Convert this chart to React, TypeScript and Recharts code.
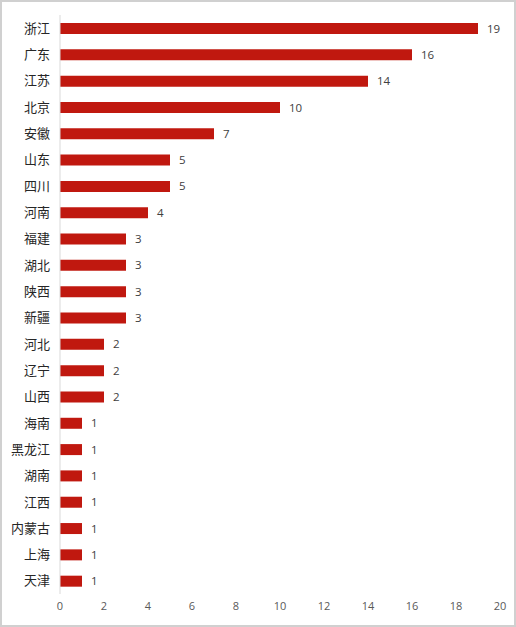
import { BarChart, Bar, XAxis, YAxis, LabelList } from 'recharts'

const provinces = [
  '浙江', '广东', '江苏', '北京', '安徽', '山东', '四川', '河南', '福建', '湖北', '陕西',
  '新疆', '河北', '辽宁', '山西', '海南', '黑龙江', '湖南', '江西', '内蒙古', '上海', '天津',
]
const counts = [19, 16, 14, 10, 7, 5, 5, 4, 3, 3, 3, 3, 2, 2, 2, 1, 1, 1, 1, 1, 1, 1]
const xTicks = [0, 2, 4, 6, 8, 10, 12, 14, 16, 18, 20]

const data = provinces.map((name, i) => ({ name, value: counts[i] }))

export default function App() {
  return (
    <div
      style={{
        position: 'absolute',
        left: 0,
        top: 0,
        width: 516,
        height: 627,
        boxSizing: 'border-box',
        border: '2px solid #d0d0d0',
        background: '#fff',
      }}
    >
      <div style={{ position: 'absolute', left: -2, top: -2 }}>
        <BarChart
          width={516}
          height={627}
          data={data}
          layout="vertical"
          margin={{ top: 15, right: 16, bottom: 3, left: 0 }}
        >
          <XAxis
            type="number"
            domain={[0, 20]}
            ticks={xTicks}
            axisLine={false}
            tickLine={false}
            height={30}
            tick={{ fill: '#595959', fontSize: 11, fontFamily: 'Open Sans, sans-serif' }}
          />
          <YAxis
            type="category"
            dataKey="name"
            width={60}
            axisLine={{ stroke: '#d9d9d9' }}
            tickLine={false}
            tickSize={0}
            tickMargin={10}
            interval={0}
            tick={{ fill: '#262626', fontSize: 13, fontFamily: '"Noto Sans CJK SC", sans-serif' }}
          />
          <Bar dataKey="value" fill="#c0180f" barSize={11} isAnimationActive={false}>
            <LabelList
              dataKey="value"
              position="right"
              offset={9}
              fill="#404040"
              fontSize={11.5}
              fontFamily="Open Sans, sans-serif"
            />
          </Bar>
        </BarChart>
      </div>
    </div>
  )
}
